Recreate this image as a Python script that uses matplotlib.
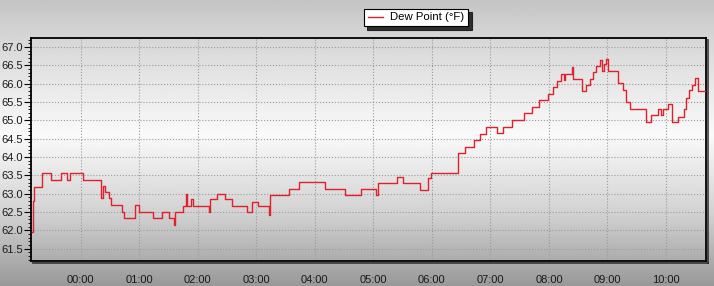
"""Dew point trace overnight, redrawn as a step chart."""
import numpy as np
import pandas as pd
import matplotlib
matplotlib.use("Agg")
import matplotlib.pyplot as plt
import matplotlib.dates as mdates
import matplotlib.patheffects as pe
from matplotlib.ticker import MultipleLocator

plt.rcParams["font.family"] = ["Liberation Sans", "DejaVu Sans"]

SERIES_NAME = "Dew Point (°F)"
START_DAY = "2020-01-01"

# clock time at which each reading starts, and the reading (°F)
clock = [
    "23:10", "23:11", "23:12", "23:20", "23:30", "23:40", "23:46", "23:49",
    "00:02", "00:21", "00:23", "00:25", "00:29", "00:31", "00:42", "00:44",
    "00:56", "01:00", "01:14", "01:23", "01:30", "01:36", "01:37", "01:45",
    "01:48", "01:49", "01:53", "01:55", "02:11", "02:13", "02:20", "02:28",
    "02:35", "02:50", "02:56", "03:02", "03:13", "03:14", "03:33", "03:44",
    "04:10", "04:31", "04:47", "05:03", "05:05", "05:24", "05:30", "05:48",
    "05:56", "05:59", "06:27", "06:34", "06:43", "06:49", "06:55", "07:07",
    "07:13", "07:22", "07:34", "07:43", "07:50", "07:59", "08:04", "08:08",
    "08:12", "08:15", "08:16", "08:24", "08:25", "08:34", "08:38", "08:42",
    "08:45", "08:48", "08:52", "08:54", "08:56", "08:58", "09:01", "09:11",
    "09:16", "09:19", "09:23", "09:39", "09:45", "09:52", "09:55", "09:57",
    "10:02", "10:06", "10:12", "10:18", "10:21", "10:24", "10:27", "10:30",
    "10:33", "10:41",
]
dew_point = [
    61.95, 62.80, 63.19, 63.55, 63.37, 63.55, 63.37, 63.55,
    63.37, 62.87, 63.20, 63.05, 62.87, 62.69, 62.49, 62.33,
    62.69, 62.49, 62.33, 62.49, 62.33, 62.15, 62.49, 62.66,
    62.98, 62.66, 62.85, 62.66, 62.49, 62.84, 62.98, 62.84,
    62.66, 62.49, 62.78, 62.66, 62.42, 62.96, 63.13, 63.31,
    63.13, 62.96, 63.13, 62.95, 63.30, 63.45, 63.30, 63.10,
    63.42, 63.57, 64.10, 64.27, 64.46, 64.63, 64.81, 64.65,
    64.82, 65.00, 65.20, 65.36, 65.55, 65.73, 65.90, 66.07,
    66.26, 66.10, 66.26, 66.45, 66.12, 65.81, 65.96, 66.12,
    66.33, 66.49, 66.65, 66.35, 66.55, 66.69, 66.35, 66.01,
    65.83, 65.51, 65.30, 64.95, 65.15, 65.30, 65.15, 65.30,
    65.46, 64.95, 65.10, 65.30, 65.62, 65.83, 65.96, 66.15,
    65.81, 65.81,
]
x_range = ("23:09", "10:41")
y_range = (61.16, 67.25)
y_major = 0.5


def to_time(hhmm):
    day = pd.Timestamp(START_DAY)
    t = day + pd.Timedelta(hours=int(hhmm[:2]), minutes=int(hhmm[3:]))
    if t.hour >= 12:
        t -= pd.Timedelta(days=1)
    return t


def add_background(fig):
    # vertical grey gradient behind everything
    stops = [0.0, 0.13, 0.47, 0.75, 1.0]
    greys = [0.77, 0.84, 0.98, 0.82, 0.60]
    rows = np.interp(np.linspace(0, 1, 256), stops, greys)
    img = np.repeat(rows[:, None], 2, axis=1)
    bg = fig.add_axes([0, 0, 1, 1], zorder=-10)
    bg.imshow(img, cmap="gray", vmin=0, vmax=1, aspect="auto", extent=[0, 1, 0, 1])
    bg.set_axis_off()


def plot_chart():
    times = [to_time(c) for c in clock]
    fig = plt.figure(figsize=(7.14, 2.86), dpi=100)
    add_background(fig)

    ax = fig.add_axes([31 / 714, 25 / 286, 675 / 714, 223 / 286])
    ax.set_facecolor("none")
    ax.step(times, dew_point, where="post", color="#e0202a", linewidth=1.0,
            label=SERIES_NAME, zorder=3)

    ax.set_xlim(to_time(x_range[0]), to_time(x_range[1]))
    ax.set_ylim(*y_range)
    ax.xaxis.set_major_locator(mdates.HourLocator())
    ax.xaxis.set_major_formatter(mdates.DateFormatter("%H:%M"))
    ax.yaxis.set_major_locator(MultipleLocator(y_major))
    ax.yaxis.set_minor_locator(MultipleLocator(0.1))
    ax.yaxis.set_major_formatter(lambda v, pos: f"{v:.1f}")
    ax.tick_params(axis="x", length=0, pad=10, labelsize=8, labelcolor="#1a1a1a")
    ax.tick_params(axis="y", which="major", length=5, width=0.8, pad=1,
                   labelsize=8, labelcolor="#1a1a1a")
    ax.tick_params(axis="y", which="minor", length=2.5, width=0.6)
    ax.grid(True, which="major", linestyle=":", color="#9a9a9a", linewidth=0.8)

    shadow = [pe.SimpleLineShadow(offset=(1.5, -1.5), shadow_color="#222222", alpha=0.8),
              pe.Normal()]
    for side, spine in ax.spines.items():
        spine.set_color("black")
        spine.set_linewidth(1.3)
        if side in ("bottom", "right"):
            spine.set_path_effects(shadow)

    leg = ax.legend(loc="center", bbox_to_anchor=(416 / 714, 268.5 / 286),
                    bbox_transform=fig.transFigure, fontsize=8.2, frameon=True,
                    fancybox=False, edgecolor="black", framealpha=1,
                    handlelength=1.4, handletextpad=0.6, borderpad=0.35,
                    shadow={"ox": 2.5, "oy": -2.5, "color": "#111111", "alpha": 0.85})
    leg.get_frame().set_linewidth(0.8)

    fig.savefig("out.png", dpi=100)
    plt.close(fig)


if __name__ == "__main__":
    plot_chart()
